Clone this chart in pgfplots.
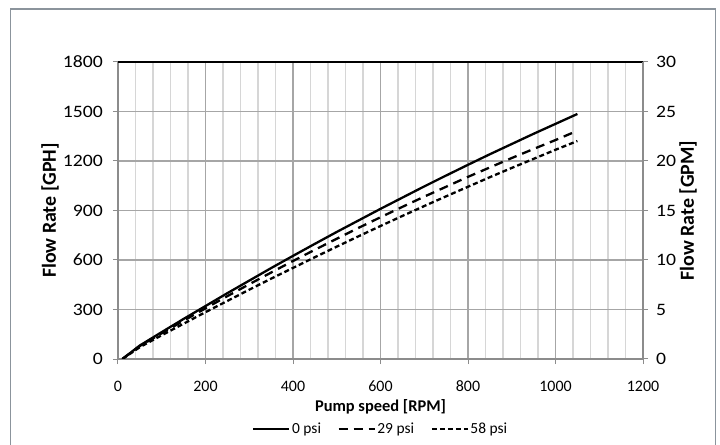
\documentclass[border=0pt]{standalone}
\usepackage{fontspec}
\setmainfont{Carlito}
\newfontfamily\ystretch[FakeStretch=1.13]{Carlito}
\usepackage{pgfplots}
\pgfplotsset{compat=1.18}
\definecolor{framec}{HTML}{8B949C}
\definecolor{majg}{HTML}{A6A6A6}
\definecolor{ming}{HTML}{D6D6D6}
\definecolor{axg}{HTML}{8C8C8C}
\begin{document}
\begin{tikzpicture}
\path[use as bounding box] (0bp,0bp) rectangle (720bp,445bp);
\draw[framec, line width=1.6bp] (10.5bp,-5bp) -- (10.5bp,436bp) -- (715.5bp,436bp) -- (715.5bp,-5bp);
\begin{axis}[
  at={(118bp,86bp)}, anchor=south west, scale only axis,
  width=525bp, height=297bp,
  xmin=0, xmax=1200, ymin=0, ymax=1800,
  xtick={0,200,...,1200}, ytick={0,300,...,1800},
  minor x tick num=4,
  xmajorgrids, xminorgrids, ymajorgrids,
  major grid style={draw=majg, line width=1.1bp},
  minor grid style={draw=ming, line width=1.1bp},
  axis x line*=bottom, axis y line*=left,
  axis line style={-, draw=axg, line width=1.3bp},
  tick align=outside, major tick length=5bp, minor tick length=0bp,
  tick style={draw=axg, line width=1bp},
  scaled ticks=false,
  /pgf/number format/1000 sep={},
  /pgf/number format/assume math mode=true,
  xticklabel style={font=\fontsize{16}{17}\selectfont, anchor=base, yshift=-27bp},
  yticklabel style={font=\ystretch\fontsize{17.5}{18}\selectfont, anchor=east, inner sep=0pt, xshift=-10bp},
  xlabel={Pump speed [RPM]},
  xlabel style={font=\bfseries\fontsize{16.5}{18}\selectfont, at={(axis description cs:0.5,-0.1774)}, anchor=base},
  ylabel={Flow Rate [GPH]},
  ylabel style={font=\bfseries\fontsize{20}{22}\selectfont, at={(axis description cs:-0.1295,0.5)}, anchor=center},
  legend columns=3,
  legend style={at={(axis description cs:0.5,-0.236)}, anchor=center, draw=none, fill=none,
    font=\fontsize{15.5}{17}\selectfont, inner sep=0pt,
    nodes={inner xsep=1.5bp, inner ysep=0pt},
    /tikz/every even column/.append style={column sep=15bp}},
  legend image code/.code={\draw[#1] (0bp,0bp) -- (36bp,0bp);},
]
\addplot[black, line width=2.3bp, line cap=butt] coordinates {
(10,0) (50,82) (100,163) (150,243) (200,321) (250,399) (300,475) (350,551)
(400,625) (450,698) (500,770) (550,840) (600,910) (650,978) (700,1046)
(750,1112) (800,1177) (850,1241) (900,1303) (950,1365) (1000,1425) (1050,1485)};
\addlegendentry{0 psi}
\addplot[black, line width=2.3bp, line cap=butt, dash pattern=on 9bp off 6bp] coordinates {
(10,0) (50,79) (100,156) (150,232) (200,307) (250,381) (300,453) (350,524)
(400,594) (450,662) (500,729) (550,795) (600,859) (650,922) (700,984)
(750,1044) (800,1104) (850,1161) (900,1218) (950,1273) (1000,1327) (1040,1372)};
\addlegendentry{29 psi}
\addplot[black, line width=2.3bp, line cap=butt, dash pattern=on 5bp off 3bp] coordinates {
(10,0) (50,72) (100,144) (150,214) (200,284) (250,352) (300,420) (350,487)
(400,552) (450,617) (500,681) (550,744) (600,806) (650,867) (700,927)
(750,986) (800,1044) (850,1102) (900,1158) (950,1213) (1000,1268) (1050,1321)};
\addlegendentry{58 psi}
\draw[black, line width=2bp] (rel axis cs:0,1) -- (rel axis cs:1,1);
\end{axis}
\begin{axis}[
  at={(118bp,86bp)}, anchor=south west, scale only axis,
  width=525bp, height=297bp,
  xmin=0, xmax=1200, ymin=0, ymax=30,
  ytick={0,5,...,30},
  axis x line=none, axis y line*=right,
  axis line style={-, draw=axg, line width=1.3bp},
  tick align=outside, major tick length=5bp,
  tick style={draw=axg, line width=1bp},
  /pgf/number format/assume math mode=true,
  yticklabel style={font=\ystretch\fontsize{17.5}{18}\selectfont, anchor=west, inner sep=0pt, xshift=8bp},
  ylabel={Flow Rate [GPM]},
  ylabel style={font=\bfseries\fontsize{20}{22}\selectfont, at={(axis description cs:1.0857,0.5)}, anchor=center},
]
\end{axis}
\end{tikzpicture}
\end{document}
